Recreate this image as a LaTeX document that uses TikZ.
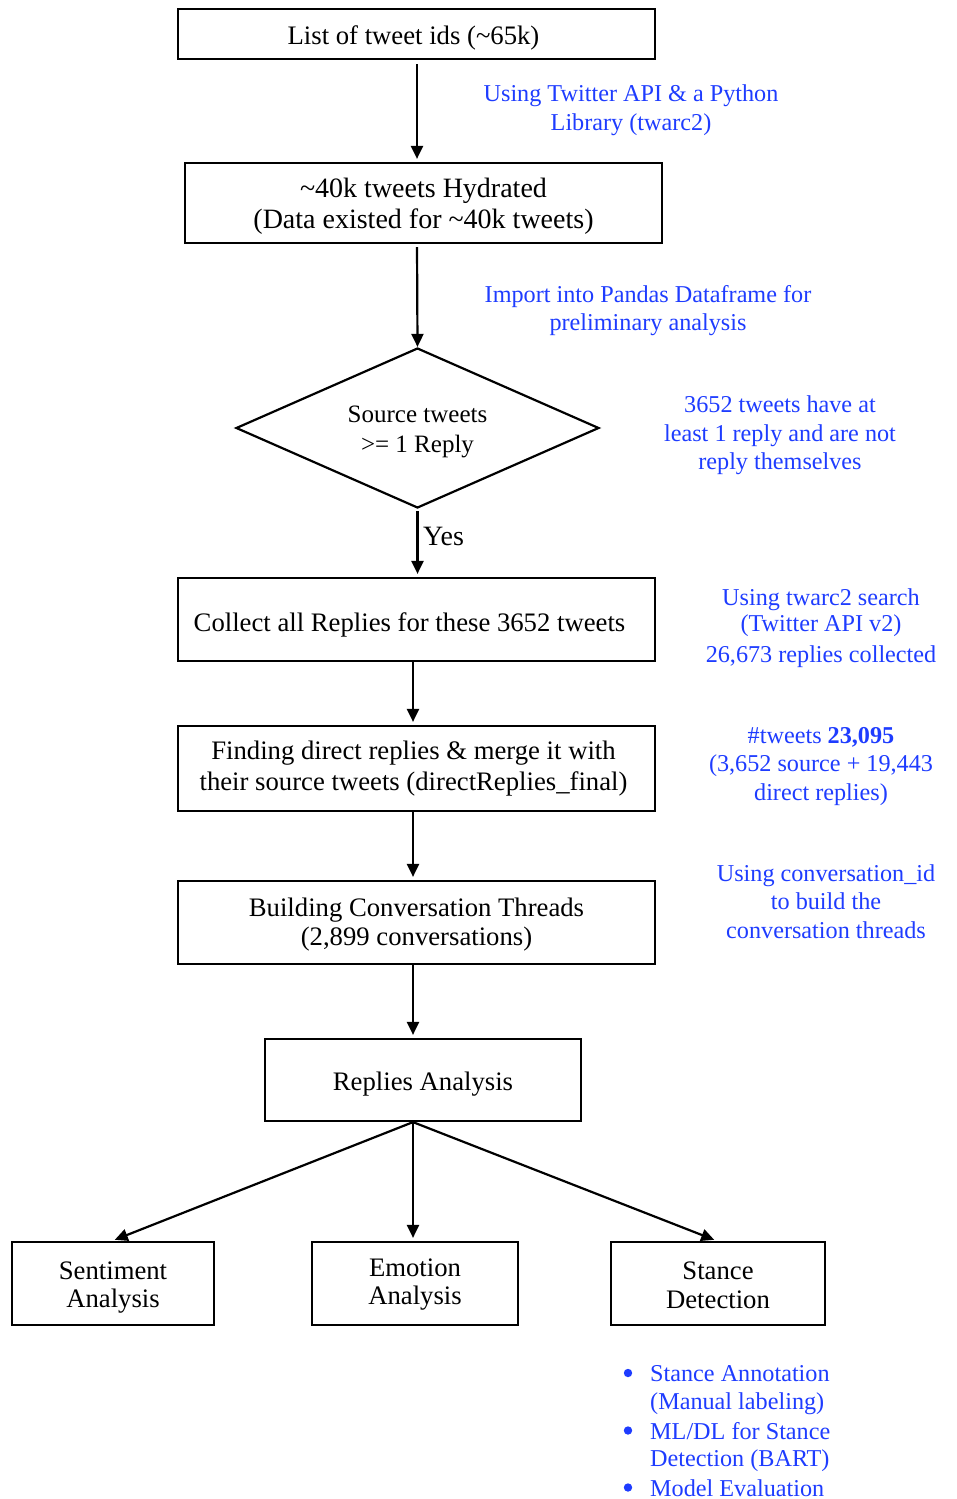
\documentclass[tikz,border=0pt]{standalone}
\usepackage{fontspec}
\setmainfont{Liberation Serif}
\usetikzlibrary{arrows.meta,shapes.geometric}
\definecolor{noteblue}{RGB}{30,60,255}
\newcommand\boxfs{\fontsize{26.7pt}{31pt}\selectfont}
\newcommand\notefs{\fontsize{24.2pt}{28.5pt}\selectfont}
% move one line of text by (dx,dy) inside its node without changing the node size
\newcommand\mv[3]{\raisebox{-#2}[\height][\depth]{\hspace*{#1}#3}}
\begin{document}
\begin{tikzpicture}[x=1pt,y=-1pt,
  stepbox/.style={draw, line width=2.2pt, rectangle, inner sep=0pt, align=center, font=\boxfs},
  flow/.style={line width=2.2pt, -{Triangle[length=13pt,width=12pt]}, shorten >=3pt},
  note/.style={text=noteblue, font=\notefs, align=center, inner sep=0pt},
  bullet/.style={text=noteblue, font=\notefs, inner sep=0pt, anchor=base west},
  itemdot/.style={fill=noteblue}]
\useasboundingbox (0,0) rectangle (956,1499);

% main flow
\node[stepbox, minimum width=477pt, minimum height=50pt] (ids) at (416.5,34)
  {\mv{-6pt}{4pt}{List of tweet ids (\textasciitilde 65k)}};
\node[stepbox, minimum width=477pt, minimum height=80pt, font=\fontsize{28pt}{31pt}\selectfont] (hyd) at (423.5,203)
  {\mv{0pt}{3pt}{\textasciitilde 40k tweets Hydrated}\\\mv{0pt}{3pt}{(Data existed for \textasciitilde 40k tweets)}};
\node[draw, diamond, line width=2.2pt, aspect=2.27, minimum width=363pt, minimum height=160pt,
  inner sep=0pt, align=center, font=\fontsize{25pt}{30pt}\selectfont] (src) at (417.5,428)
  {\mv{0pt}{4pt}{Source tweets}\\\mv{0pt}{4pt}{>= 1 Reply}};
\node[stepbox, minimum width=477pt, minimum height=83pt] (coll) at (416.5,619.5)
  {\mv{-14pt}{5pt}{Collect all Replies for these 3652 tweets}};
\node[stepbox, minimum width=477pt, minimum height=85pt] (dir) at (416.5,768.5)
  {\mv{-6pt}{0pt}{Finding direct replies \& merge it with}\\\mv{-6pt}{0pt}{their source tweets (directReplies\_final)}};
\node[stepbox, minimum width=477pt, minimum height=83pt, font=\fontsize{26.7pt}{28.5pt}\selectfont] (conv) at (416.5,922.5)
  {\mv{0pt}{2pt}{Building Conversation Threads}\\\mv{0pt}{2pt}{(2,899 conversations)}};
\node[stepbox, minimum width=316pt, minimum height=82pt] (rep) at (423,1080)
  {\mv{0pt}{4pt}{Replies Analysis}};
\node[stepbox, minimum width=202pt, minimum height=83pt, font=\fontsize{26.7pt}{28.5pt}\selectfont] (sent) at (113,1283.5)
  {\mv{0pt}{4pt}{Sentiment}\\\mv{0pt}{4pt}{Analysis}};
\node[stepbox, minimum width=206pt, minimum height=83pt, font=\fontsize{26.7pt}{28.5pt}\selectfont] (emo) at (415,1283.5)
  {\mv{0pt}{1pt}{Emotion}\\\mv{0pt}{1pt}{Analysis}};
\node[stepbox, minimum width=214pt, minimum height=83pt, font=\fontsize{26.7pt}{28.5pt}\selectfont] (stance) at (718,1283.5)
  {\mv{0pt}{2pt}{Stance}\\\mv{0pt}{2pt}{Detection}};

% connectors
\draw[flow, shorten <=4pt] ([xshift=0.5pt]ids.south) -- ([xshift=-6.5pt]hyd.north);
\draw[flow, shorten <=3pt, shorten >=0pt] ([xshift=-6.5pt]hyd.south) -- (src.north);
\draw[flow, shorten <=2pt] (src.south) -- ([xshift=1pt]coll.north);
\node[font=\fontsize{28pt}{31pt}\selectfont, inner sep=0pt, anchor=west] (yes) at (423,536) {Yes};
\draw[flow] ([xshift=-3.5pt]coll.south) -- ([xshift=-3.5pt]dir.north);
\draw[flow] ([xshift=-3.5pt]dir.south) -- ([xshift=-3.5pt]conv.north);
\draw[flow] ([xshift=-3.5pt]conv.south) -- ([xshift=-10pt]rep.north);
\coordinate (fan) at ([xshift=-10pt]rep.south);
\draw[flow] (fan) -- ([xshift=-1pt]sent.north);
\draw[flow] (fan) -- ([xshift=-2pt]emo.north);
\draw[flow] (fan) -- ([xshift=-1pt]stance.north);

% side notes
\node[note] (n1) at (631,110) {Using Twitter API \& a Python\\Library (twarc2)};
\node[note] (n2) at (648,310.5) {Import into Pandas Dataframe for\\preliminary analysis};
\node[note] (n3) at (780,435.5) {3652 tweets have at\\least 1 reply and are not\\reply themselves};
\node[note] (n4) at (821,628.5) {Using twarc2 search\\[-2.5pt](Twitter API v2)\\[2.5pt]26,673 replies collected};
\node[note] (n5) at (821,766.5) {\#tweets \textbf{23,095}\\(3,652 source + 19,443\\direct replies)};
\node[note] (n6) at (826,901.5) {Using conversation\_id\\to build the\\conversation threads};

% stance detection steps
\node[bullet] (s1) at (650,1381.5) {Stance Annotation};
\node[bullet] (s2) at (650,1409) {(Manual labeling)};
\node[bullet] (s3) at (650,1439) {ML/DL for Stance};
\node[bullet] (s4) at (650,1466.5) {Detection (BART)};
\node[bullet] (s5) at (650,1496) {Model Evaluation};
\fill[itemdot] ([xshift=-22pt,yshift=8.5pt]s1.base west) circle (4.2pt);
\fill[itemdot] ([xshift=-22pt,yshift=8.5pt]s3.base west) circle (4.2pt);
\fill[itemdot] ([xshift=-22pt,yshift=8.5pt]s5.base west) circle (4.2pt);
\end{tikzpicture}
\end{document}
